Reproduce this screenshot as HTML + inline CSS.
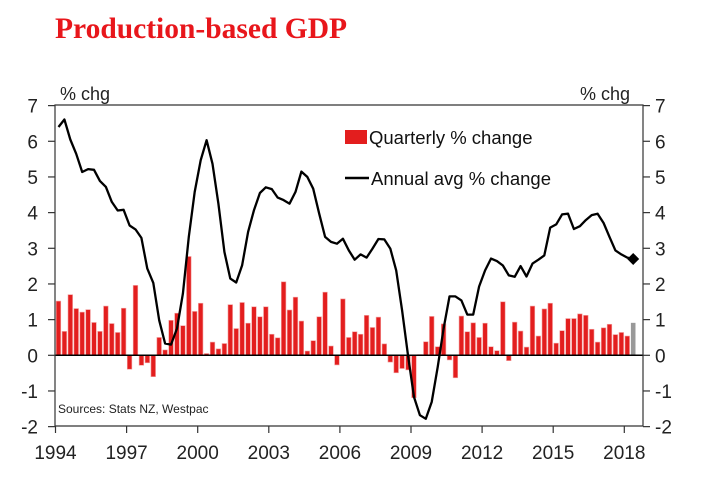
<!DOCTYPE html>
<html><head><meta charset="utf-8"><style>
body{margin:0;background:#fff;}
svg{display:block;font-family:"Liberation Sans",sans-serif;}
</style></head><body>
<svg id="c" width="704" height="492">
<text x="55" y="38" font-family="Liberation Serif" font-weight="bold" font-size="29.5" fill="#e8161b">Production-based GDP</text>
<text x="60" y="100" font-size="18" fill="#222">% chg</text>
<text x="630" y="100" font-size="18" fill="#222" text-anchor="end">% chg</text>
<g id="bars"></g>
<g id="axes"></g>
<path id="line" fill="none" stroke="#000" stroke-width="2.3" stroke-linejoin="round"/>
<rect x="345" y="130" width="22" height="14" fill="#e31e1e"/>
<text x="369" y="144" font-size="18.5" fill="#111">Quarterly % change</text>
<line x1="345" y1="178" x2="369" y2="178" stroke="#000" stroke-width="2.5"/>
<text x="371" y="185" font-size="18.5" fill="#111">Annual avg % change</text>
<text x="58" y="413" font-size="12" fill="#222">Sources: Stats NZ, Westpac</text>
</svg>
<script>
const quarterly=[1.52,0.67,1.70,1.31,1.21,1.28,0.92,0.67,1.38,0.89,0.64,1.32,-0.39,1.96,-0.28,-0.21,-0.60,0.50,0.15,0.98,1.18,0.83,2.77,1.23,1.46,0.05,0.37,0.18,0.33,1.42,0.75,1.48,0.90,1.36,1.08,1.36,0.59,0.49,2.06,1.27,1.63,0.96,0.12,0.41,1.08,1.77,0.26,-0.27,1.58,0.50,0.66,0.59,1.12,0.78,1.07,0.32,-0.19,-0.49,-0.37,-0.41,-1.19,0.02,0.38,1.09,0.24,0.88,-0.13,-0.63,1.10,0.66,0.91,0.50,0.90,0.24,0.13,1.50,-0.15,0.93,0.68,0.23,1.38,0.54,1.30,1.46,0.34,0.69,1.03,1.03,1.16,1.12,0.73,0.37,0.77,0.87,0.58,0.64,0.54,0.91];
const annual=[6.40,6.61,6.05,5.65,5.14,5.22,5.20,4.89,4.72,4.30,4.06,4.08,3.64,3.53,3.29,2.43,2.03,0.98,0.33,0.30,0.75,1.73,3.32,4.58,5.47,6.03,5.37,4.25,2.90,2.15,2.04,2.52,3.46,4.07,4.55,4.71,4.66,4.42,4.35,4.25,4.58,5.15,5.00,4.67,3.97,3.32,3.18,3.13,3.27,2.94,2.68,2.83,2.74,2.99,3.26,3.25,2.99,2.38,1.26,0.0,-1.17,-1.68,-1.78,-1.31,-0.33,0.75,1.65,1.65,1.54,1.14,1.14,1.93,2.38,2.71,2.64,2.52,2.24,2.20,2.50,2.21,2.57,2.68,2.80,3.58,3.67,3.95,3.97,3.54,3.62,3.79,3.93,3.97,3.71,3.32,2.94,2.83,2.74,2.70];
const yTicks=[-2,-1,0,1,2,3,4,5,6,7];
const xTickYears=[1994,1997,2000,2003,2006,2009,2012,2015,2018];
const NS='http://www.w3.org/2000/svg';
const X0=55.5,PX_YR=23.7,Y0=355.3,PX_U=35.67,L=55,R=643,T=105,B=426;
const y=v=>Y0-v*PX_U;
const xq=i=>X0+PX_YR/4*(i+0.5);
const xy=yr=>X0+(yr-1994)*PX_YR;
function mk(tag,at,parent){const e=document.createElementNS(NS,tag);for(const k in at)e.setAttribute(k,at[k]);parent.appendChild(e);return e;}
const bars=document.getElementById('bars'),axes=document.getElementById('axes');
quarterly.forEach((v,i)=>{
 const last=i===quarterly.length-1;
 const r=mk('rect',{x:xq(i)-2.3,y:Math.min(y(v),Y0),width:4.6,height:Math.abs(y(v)-Y0),fill:last?'#999':'#e31e1e',stroke:last?'none':'#f3a0a0','stroke-width':0.6},bars);
 
 
});
const zl=mk('line',{x1:L,x2:R,y1:Y0,y2:Y0,stroke:'#000','stroke-width':1.5},axes);


mk('path',{d:`M${L},${T}H${R}V${B}H${L}Z`,fill:'none',stroke:'#333','stroke-width':1.2},axes);
yTicks.forEach(v=>{
 mk('line',{x1:L-7,x2:L,y1:y(v),y2:y(v),stroke:'#333','stroke-width':1.2},axes);
 mk('line',{x1:R,x2:R+7,y1:y(v),y2:y(v),stroke:'#333','stroke-width':1.2},axes);
 const a=mk('text',{x:38,y:y(v)+7,'font-size':19,fill:'#222','text-anchor':'end'},axes);a.textContent=v;
 
 
 const b=mk('text',{x:655,y:y(v)+7,'font-size':19,fill:'#222'},axes);b.textContent=v;
 
 
});
xTickYears.forEach(yr=>{
 mk('line',{x1:xy(yr),x2:xy(yr),y1:B,y2:B+7,stroke:'#333','stroke-width':1.2},axes);
 const t=mk('text',{x:xy(yr),y:459,'font-size':19,fill:'#222','text-anchor':'middle'},axes);t.textContent=yr;
 
 
});
document.getElementById('line').setAttribute('d',annual.map((v,i)=>(i?'L':'M')+xq(i).toFixed(1)+','+y(v).toFixed(1)).join(''));
const n=annual.length-1,dx=xq(n),dy=y(annual[n]);
const d=mk('path',{d:`M${dx-6},${dy}L${dx},${dy-6}L${dx+6},${dy}L${dx},${dy+6}Z`,fill:'#000'},document.getElementById('c'));


</script>
</body></html>
